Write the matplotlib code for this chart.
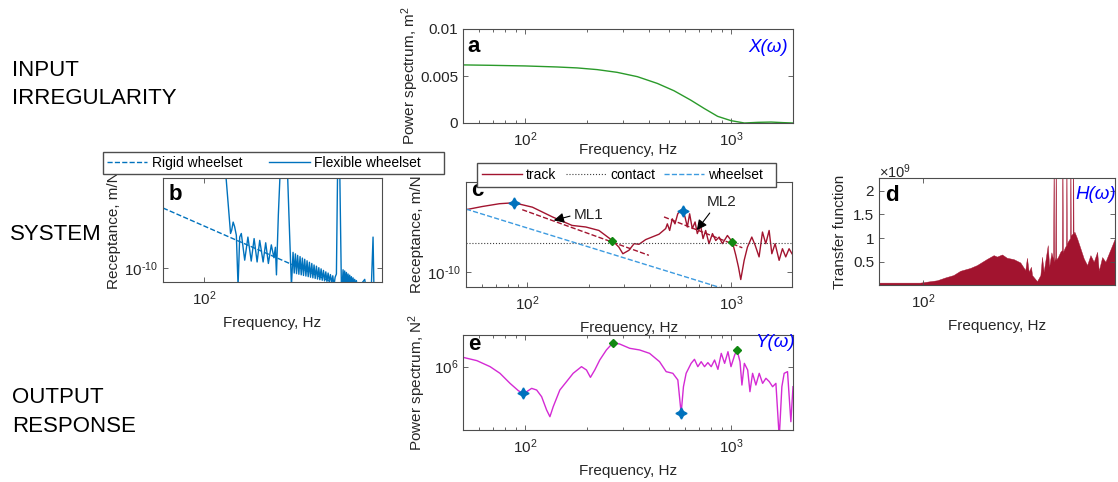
import numpy as np
import matplotlib
matplotlib.use("Agg")
import matplotlib.pyplot as plt
import matplotlib.ticker as ticker

plt.rcParams.update({
    "font.family": ["Liberation Sans", "DejaVu Sans"],
    "mathtext.fontset": "custom",
    "mathtext.rm": "Liberation Sans",
    "mathtext.it": "Liberation Sans:italic",
    "mathtext.bf": "Liberation Sans:bold",
})

W, H = 1118, 482
AXC = "#4d4d4d"
TXT = "#262626"
RED = "#A2142F"
BLUE = "#0072BD"
LBLUE = "#3d9be0"
GREEN = "#118811"
MAG = "#d42ad4"
STAR = (4, 1, 0)

# --- a: input irregularity power spectrum (m^2)
irr_freq = [50, 67, 100, 143, 179, 224, 280, 351, 439, 529, 638, 742, 861, 1000,
            1162, 1349, 1567, 1786, 2000]
irr_psd = [0.00618, 0.00614, 0.00607, 0.00596, 0.00586, 0.00568, 0.00539, 0.00493,
           0.00421, 0.00343, 0.00243, 0.00154, 0.00071, 0.00025, 0.0, 0.00007,
           0.0001, 0.00004, 0.0]

# --- b: wheelset receptance (log10 m/N)
rigid_freq = [50, 2000]
rigid_logrec = [-8.0, -11.2]
flex_freq = [137, 145, 156, 159, 163, 167, 172, 177, 182, 187, 198, 209, 221, 232,
             244, 255, 270, 282, 295, 310, 324, 332, 338, 349, 362, 380, 405, 417,
             435, 447, 456, 465, 474, 483, 493, 503, 513, 523, 533, 544, 555, 566,
             577, 589, 600, 613, 624, 637, 649, 663, 675, 690, 702, 717, 731, 746,
             760, 776, 791, 807, 823, 839, 856, 873, 890, 908, 928, 948, 980, 1009,
             1023, 1038, 1052, 1067, 1082, 1098, 1113, 1129, 1145, 1161, 1178, 1194,
             1211, 1228, 1245, 1263, 1281, 1299, 1317, 1374, 1495, 1520, 1672, 1720,
             1745, 2000]
flex_logrec = [-6.5, -7.05, -8.85, -8.74, -8.47, -8.62, -8.91, -10.6, -8.97, -8.85,
               -9.74, -8.97, -9.77, -9.02, -9.80, -9.08, -9.80, -9.16, -9.85, -9.23,
               -9.66, -9.31, -10.23, -8.22, -6.5, -6.0, -6.5, -8.22,
               -10.6, -9.48, -10.17, -9.53, -10.19, -9.58, -10.21, -9.62, -10.23,
               -9.67, -10.25, -9.71, -10.27, -9.76, -10.29, -9.81, -10.31, -9.85,
               -10.33, -9.90, -10.35, -9.94, -10.37, -9.99, -10.39, -10.03, -10.41,
               -10.08, -10.43, -10.13, -10.45, -10.17, -10.47, -10.22, -10.50,
               -10.26, -10.6, -10.31, -10.2, -6.5, -6.5, -10.6,
               -10.6, -10.06, -10.6, -10.10, -10.6, -10.15, -10.6, -10.20, -10.6,
               -10.24, -10.6, -10.29, -10.6, -10.33, -10.6, -10.38, -10.6, -10.42,
               -10.6, -10.6, -10.38, -10.6, -10.6, -8.97, -10.6, -10.6]

# --- c: track / contact / wheelset receptance (log10 m/N)
track_freq = [50, 60, 73, 86, 106, 133, 166, 194, 225, 262, 282, 295, 316, 335, 354,
              382, 444, 479, 488, 501, 516, 532, 549, 568, 583, 596, 612, 628, 647,
              668, 685, 711, 731, 753, 782, 813, 844, 877, 910, 963, 1019, 1059, 1091,
              1120, 1164, 1208, 1269, 1318, 1378, 1432, 1486, 1544, 1592, 1652, 1729,
              1795, 1863, 1935, 2000]
track_logrec = [-8.02, -7.92, -7.83, -7.80, -7.94, -8.25, -8.52, -8.57, -8.68, -9.00,
                -9.21, -9.42, -9.31, -9.10, -9.12, -8.97, -8.80, -8.62, -8.47, -8.68,
                -8.31, -8.47, -8.15, -8.04, -8.06, -8.25, -8.57, -8.15, -8.62, -8.41,
                -8.78, -8.52, -8.94, -8.68, -9.10, -8.78, -9.00, -8.89, -9.10, -8.84,
                -9.05, -9.47, -9.84, -10.24, -9.63, -9.21, -8.89, -9.15, -9.52, -8.73,
                -9.10, -8.68, -9.42, -9.10, -9.63, -9.26, -9.52, -9.26, -9.42]
contact_freq = [50, 2000]
contact_logrec = [-9.08, -9.08]
ml1_freq = [94.5, 396]
ml1_logrec = [-8.02, -9.47]
ml2_freq = [470, 1140]
ml2_logrec = [-8.25, -9.23]
c_star_freq = [86, 583]
c_star_logrec = [-7.80, -8.06]
c_dia_freq = [262, 1019]
c_dia_logrec = [-9.00, -9.05]

# --- d: transfer function
tf_freq = [50, 95, 124, 141, 160, 178, 208, 231, 270, 300, 316, 342, 369, 410, 455,
           492, 505, 519, 538, 547, 591, 623, 639, 656, 699, 715, 740, 760, 767, 772,
           786, 792, 798, 820, 851, 872, 879, 886, 907, 930, 936, 942, 955, 990, 996,
           1002, 1032, 1039, 1046, 1061, 1106, 1165, 1227, 1293, 1362, 1435, 1513,
           1552, 1636, 1722, 1815, 1914, 2000]
tf_val = [0.06, 0.06, 0.11, 0.17, 0.22, 0.31, 0.37, 0.43, 0.56, 0.64, 0.61, 0.655,
          0.585, 0.556, 0.486, 0.324, 0.585, 0.289, 0.394, 0.218, 0.091, 0.218, 0.606,
          0.289, 0.852, 0.394, 0.70, 0.55, 3.0, 0.5, 0.6, 3.0, 0.55, 0.6, 0.711, 0.75,
          3.0, 0.7, 0.782, 0.85, 3.0, 0.85, 0.923, 1.0, 3.0, 1.05, 1.1, 3.0, 1.1,
          1.134, 0.993, 0.782, 0.570, 0.43, 0.641, 0.5, 0.711, 0.31, 0.60, 0.50,
          0.676, 0.852, 1.0]

# --- e: output power spectrum (log10 N^2)
out_freq = [50, 58.4, 67.7, 75.6, 84.6, 92.8, 97.4, 101.9, 107.7, 113.9, 120.4,
            127.3, 132.1, 137.1, 147.6, 159.1, 171.3, 188, 198.8, 207.8, 218.1, 230.6,
            248.4, 267.5, 288.2, 322.2, 360.1, 402.5, 449.9, 484.6, 522, 552, 572.8,
            587.8, 605.6, 640.4, 664.8, 690.2, 716.5, 743.9, 772.2, 801.7, 832.3,
            864.1, 897, 931.3, 966.8, 1000, 1042, 1069, 1106, 1130, 1161, 1205, 1236,
            1273, 1321, 1371, 1424, 1478, 1534, 1592, 1652, 1715, 1766, 1812, 1881,
            1953, 2000]
out_logpsd = [6.118, 6.076, 6.0, 5.916, 5.789, 5.697, 5.663, 5.684, 5.726, 5.705,
              5.621, 5.453, 5.368, 5.495, 5.705, 5.811, 5.916, 6.0, 5.958, 5.865,
              5.958, 6.084, 6.211, 6.303, 6.286, 6.232, 6.211, 6.168, 6.063, 5.937,
              5.916, 5.832, 5.411, 5.747, 5.916, 6.042, 6.093, 6.0, 6.063, 6.0, 6.051,
              6.0, 6.084, 5.966, 6.168, 6.042, 6.189, 6.0, 6.147, 6.211, 6.063, 5.768,
              6.042, 5.958, 5.684, 5.916, 5.768, 5.916, 5.789, 5.853, 5.811, 5.747,
              5.789, 5.1, 5.747, 5.916, 5.937, 5.305, 5.747]
e_star_freq = [97.4, 572.8]
e_star_logpsd = [5.663, 5.411]
e_dia_freq = [267.5, 1069]
e_dia_logpsd = [6.303, 6.211]


def pow10(v):
    return 10.0 ** np.asarray(v)


def px_axes(fig, left, top, right, bottom):
    return fig.add_axes([left / W, 1 - bottom / H, (right - left) / W, (bottom - top) / H])


def style(ax, xticks, minor=True, xpad=6):
    ax.set_xscale("log")
    ax.set_xlim(50, 2000)
    ax.set_xticks(xticks)
    if minor:
        ax.xaxis.set_minor_formatter(ticker.NullFormatter())
    else:
        ax.xaxis.set_minor_locator(ticker.NullLocator())
    ax.tick_params(which="both", direction="in", top=True, right=True,
                   color=AXC, labelcolor=TXT, labelsize=11, width=0.6)
    ax.tick_params(which="major", length=3.5)
    ax.tick_params(which="minor", length=2)
    ax.tick_params(axis="x", which="major", pad=5)
    for s in ax.spines.values():
        s.set_color(AXC)
        s.set_linewidth(0.8)
    ax.set_xlabel("Frequency, Hz", fontsize=11, color=TXT, labelpad=xpad)


def log_y(ax, lo, hi, tick, label):
    ax.set_yscale("log")
    ax.set_ylim(10 ** lo, 10 ** hi)
    ax.set_yticks([10.0 ** tick])
    ax.set_yticklabels([r"$10^{\text{%s}}$" % ("-%d" % -tick if tick < 0 else "%d" % tick)])
    ax.yaxis.set_minor_locator(ticker.NullLocator())


def letter(ax, s, x, y):
    ax.text(x, y, s, transform=ax.transAxes, fontsize=16, fontweight="bold",
            color="k", va="baseline", ha="left")


def tag(ax, s, x, y):
    ax.text(x, y, s, transform=ax.transAxes, fontsize=13.5, fontstyle="italic",
            color="#0000ff", va="baseline", ha="right")


def box_legend(handles, labels, x0, top, x1, bottom, pad):
    fig.legend(handles, labels, ncol=len(handles),
               bbox_to_anchor=(x0 / W, 1 - bottom / H, (x1 - x0) / W, (bottom - top) / H),
               loc="lower left", mode="expand", fontsize=10, frameon=True,
               fancybox=False, edgecolor=AXC, framealpha=1, borderpad=pad,
               handlelength=2.9, handletextpad=0.3, borderaxespad=0)


fig = plt.figure(figsize=(W / 100, H / 100), dpi=100)

# row titles
for s, x, y in [("INPUT", 12, 76), ("IRREGULARITY", 12, 104), ("SYSTEM", 10, 240),
                ("OUTPUT", 12, 403), ("RESPONSE", 12, 432)]:
    fig.text(x / W, 1 - y / H, s, fontsize=16, color="k", va="baseline", ha="left")

# a
ax_a = px_axes(fig, 463, 29, 793, 123)
ax_a.plot(irr_freq, irr_psd, color="#2a9a2a", lw=1.0)
style(ax_a, [100, 1000], xpad=-4)
ax_a.set_ylim(0, 0.01)
ax_a.set_yticks([0, 0.005, 0.01])
ax_a.set_yticklabels(["0", "0.005", "0.01"])
ax_a.set_ylabel("Power spectrum, m$^2$", fontsize=11, color=TXT, labelpad=-1)
letter(ax_a, "a", 0.012, 0.755)
tag(ax_a, "X(ω)", 0.985, 0.755)

# b
ax_b = px_axes(fig, 163, 178, 382, 282)
rig, = ax_b.plot(rigid_freq, pow10(rigid_logrec), "--", color=BLUE, lw=1.0)
flx, = ax_b.plot(flex_freq, pow10(flex_logrec), "-", color=BLUE, lw=1.0)
style(ax_b, [100], minor=False)
log_y(ax_b, -10.468, -7.0, -10, "")
ax_b.set_ylabel("Receptance, m/N", fontsize=11, color=TXT, labelpad=2)
letter(ax_b, "b", 0.027, 0.79)
box_legend([rig, flx], ["Rigid wheelset", "Flexible wheelset     "],
           103, 151, 444, 174, 0.3)

# c
ax_c = px_axes(fig, 466, 182, 792, 287)
trk, = ax_c.plot(track_freq, pow10(track_logrec), "-", color=RED, lw=1.0)
cnt, = ax_c.plot(contact_freq, pow10(contact_logrec), ":", color="#404040", lw=0.8)
whl, = ax_c.plot(rigid_freq, pow10(rigid_logrec), "--", color=LBLUE, lw=1.0)
ax_c.plot(ml1_freq, pow10(ml1_logrec), "--", color=RED, lw=1.0)
ax_c.plot(ml2_freq, pow10(ml2_logrec), "--", color=RED, lw=1.0)
ax_c.plot(c_star_freq, pow10(c_star_logrec), ls="none", marker=STAR, ms=8,
          color=BLUE, zorder=5)
ax_c.plot(c_dia_freq, pow10(c_dia_logrec), ls="none", marker="D", ms=4.5,
          color=GREEN, zorder=5)
style(ax_c, [100, 1000])
log_y(ax_c, -10.477, -7.14, -10, "")
ax_c.set_ylabel("Receptance, m/N", fontsize=11, color=TXT, labelpad=2)
letter(ax_c, "c", 0.015, 0.867)
arrow = dict(arrowstyle="-|>", color="k", lw=0.8, mutation_scale=15,
             shrinkA=1, shrinkB=0)
ax_c.annotate("ML1", xy=(135, 10 ** -8.36), xytext=(170, 10 ** -8.19), fontsize=11,
              color=TXT, va="center", ha="left",
              arrowprops=dict(arrow, relpos=(0, 0.5)))
ax_c.annotate("ML2", xy=(681, 10 ** -8.67), xytext=(762, 10 ** -7.78), fontsize=11,
              color=TXT, va="center", ha="left",
              arrowprops=dict(arrow, relpos=(0.2, 0)))
box_legend([trk, cnt, whl], ["track", "contact", "wheelset  "], 477, 163, 776, 187, 0.35)

# d
ax_d = px_axes(fig, 879, 178, 1115, 285)
ax_d.fill_between(tf_freq, 0, np.asarray(tf_val) * 1e9, color=RED, lw=0.3,
                  edgecolor=RED)
style(ax_d, [100], minor=False)
ax_d.set_ylim(0.01e9, 2.27e9)
ax_d.set_yticks([0.5e9, 1e9, 1.5e9, 2e9])
ax_d.set_yticklabels(["0.5", "1", "1.5", "2"])
ax_d.set_ylabel("Transfer function", fontsize=11, color=TXT)
ax_d.text(0.0, 0.975, r"$\times10^{9}$", transform=ax_d.transAxes, fontsize=10.5,
          color=TXT, ha="left", va="bottom")
letter(ax_d, "d", 0.025, 0.785)
tag(ax_d, "H(ω)", 1.005, 0.80)

# e
ax_e = px_axes(fig, 463, 335, 793, 430)
ax_e.plot(out_freq, pow10(out_logpsd), "-", color=MAG, lw=1.0)
ax_e.plot(e_star_freq, pow10(e_star_logpsd), ls="none", marker=STAR, ms=8,
          color=BLUE, zorder=5)
ax_e.plot(e_dia_freq, pow10(e_dia_logpsd), ls="none", marker="D", ms=4.5,
          color=GREEN, zorder=5)
style(ax_e, [100, 1000])
log_y(ax_e, 5.2, 6.4, 6, "")
ax_e.set_ylabel("Power spectrum, N$^2$", fontsize=11, color=TXT)
letter(ax_e, "e", 0.015, 0.842)
tag(ax_e, "Y(ω)", 1.006, 0.874)

fig.savefig("out.png", dpi=100)
